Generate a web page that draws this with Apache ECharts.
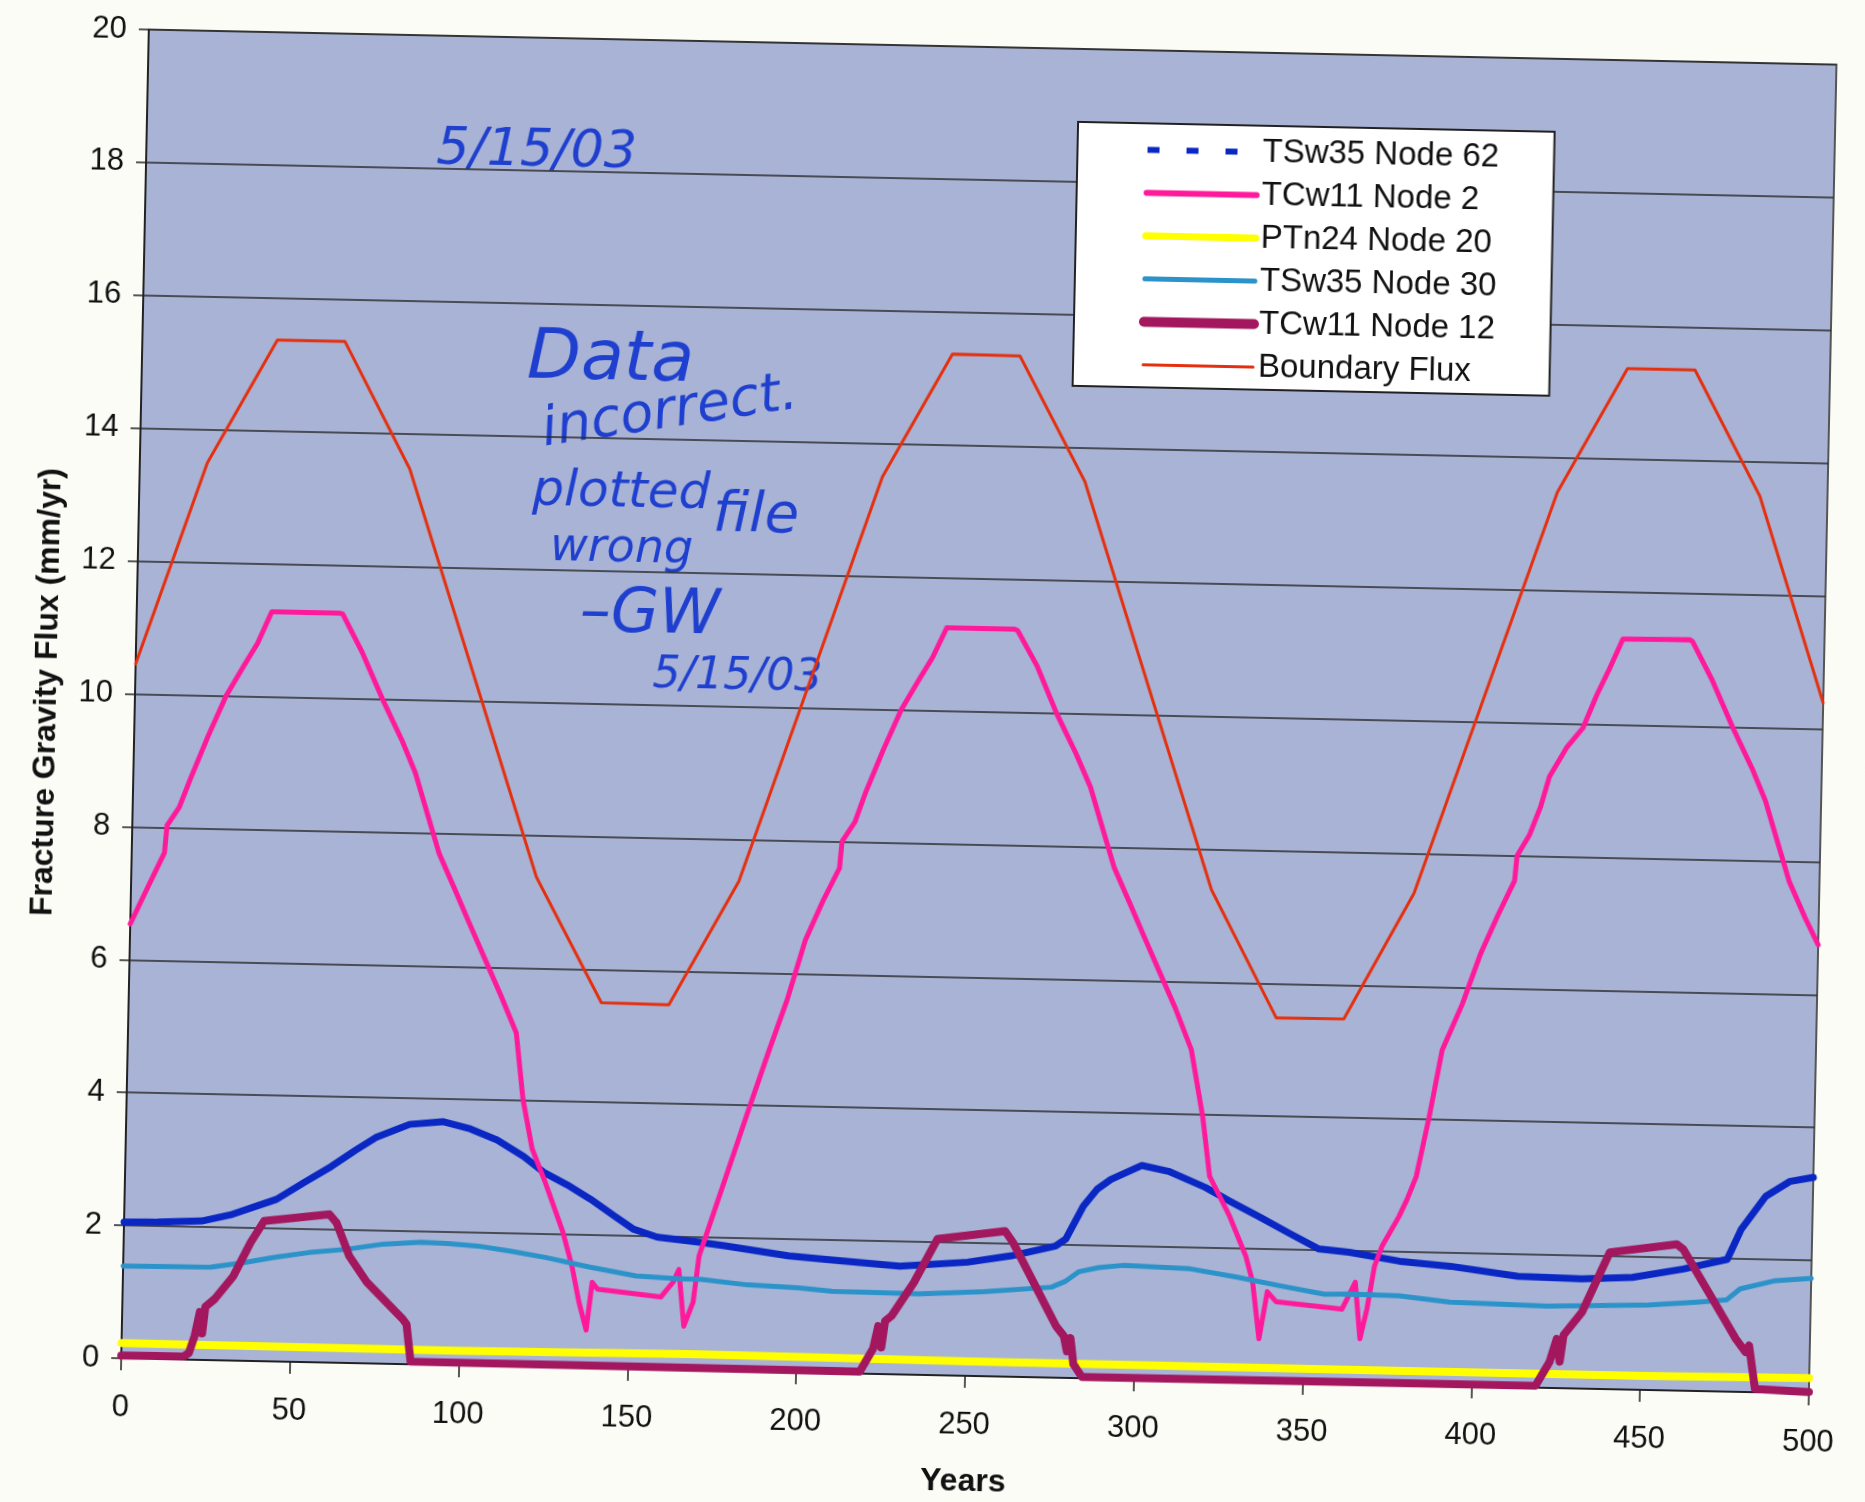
<!DOCTYPE html>
<html>
<head>
<meta charset="utf-8">
<script src="https://cdn.jsdelivr.net/npm/echarts/dist/echarts.min.js"></script>
<style>
  html, body { margin: 0; padding: 0; background: #fbfcf6; overflow: hidden; }
  /* the scanned sheet sits a little crooked */
  #chart { width: 1865px; height: 1502px; transform: rotate(1.19deg); transform-origin: 50% 50%; }
</style>
</head>
<body>
<div id="chart"></div>
<script>
// x axis: years, y axis: fracture gravity flux (mm/yr)
var yearTicks = [0, 50, 100, 150, 200, 250, 300, 350, 400, 450, 500];
var fluxTicks = [0, 2, 4, 6, 8, 10, 12, 14, 16, 18, 20];

var node62Years = [0, 10, 23, 32, 45, 53, 61, 68, 74, 84, 94, 102, 110, 118, 124, 131, 138, 145, 151, 158, 170, 178, 197, 210, 230, 250, 263, 276, 279, 284, 288, 292, 301, 309, 320, 327, 336, 345, 354, 363, 378, 393, 413, 432, 447, 462, 475, 479, 486, 493, 500];
var node62Flux  = [2.05, 2.06, 2.09, 2.2, 2.44, 2.7, 2.95, 3.2, 3.4, 3.61, 3.66, 3.56, 3.4, 3.16, 2.93, 2.75, 2.54, 2.3, 2.1, 1.99, 1.93, 1.88, 1.75, 1.7, 1.63, 1.71, 1.82, 1.98, 2.09, 2.59, 2.85, 3.0, 3.22, 3.14, 2.91, 2.72, 2.49, 2.25, 2.02, 1.98, 1.86, 1.8, 1.67, 1.65, 1.69, 1.83, 1.99, 2.45, 2.95, 3.18, 3.25];

var node2Years = [0, 5, 9.7, 10.3, 13.8, 17, 22, 27, 32, 36, 40, 60, 61, 67, 73.4, 79.3, 83.5, 86, 91, 96, 100, 105, 110, 115, 117.4, 120.4, 124.5, 130, 132.9, 135.2, 137.5, 139, 140.6, 159.4, 163, 164.6, 166.4, 169, 170.5, 177.4, 183.6, 190, 195, 200, 205, 209.7, 210.3, 214, 217, 222, 227, 232, 236, 240, 260, 261, 267, 273, 279, 283.5, 286, 291, 296, 300, 305, 310, 315, 318.8, 321.2, 327.4, 332.4, 334.6, 336.8, 339, 341.7, 361.2, 365, 366.7, 368.6, 370.6, 372.7, 377.5, 379.8, 382.4, 385.9, 389.3, 395, 400, 405, 409.7, 410.3, 413.8, 417, 419.4, 424.3, 429, 432.9, 436.6, 440.3, 460.2, 461, 467, 473.4, 479.3, 483.5, 486, 491, 496, 500];
var node2Flux  = [6.54, 7.1, 7.62, 8.03, 8.31, 8.75, 9.4, 10.0, 10.45, 10.8, 11.28, 11.28, 11.27, 10.7, 9.99, 9.39, 8.9, 8.5, 7.7, 7.15, 6.7, 6.15, 5.6, 5.02, 4.02, 3.28, 2.78, 2.04, 1.53, 0.99, 0.57, 1.29, 1.19, 1.09, 1.32, 1.51, 0.66, 1.02, 1.72, 2.83, 3.83, 4.84, 5.6, 6.5, 7.1, 7.6, 8.0, 8.3, 8.75, 9.4, 10.0, 10.45, 10.8, 11.25, 11.25, 11.23, 10.7, 10.0, 9.4, 8.9, 8.5, 7.7, 7.15, 6.7, 6.15, 5.6, 4.98, 3.97, 3.08, 2.48, 1.89, 1.5, 0.65, 1.36, 1.21, 1.12, 1.53, 0.68, 1.13, 1.78, 2.08, 2.53, 2.79, 3.14, 4.05, 5.05, 5.75, 6.5, 7.1, 7.62, 8.0, 8.31, 8.75, 9.2, 9.64, 9.94, 10.44, 10.85, 11.29, 11.3, 11.27, 10.7, 9.99, 9.39, 8.9, 8.5, 7.7, 7.15, 6.75];

var node20Years = [0, 100, 170, 250, 370, 450, 500];
var node20Flux  = [0.23, 0.22, 0.24, 0.22, 0.21, 0.21, 0.23];

var node30Years = [0, 26, 35, 45, 55, 66, 77, 88, 96, 105, 115, 125, 138, 152, 165, 171, 185, 200, 210, 236, 255, 275, 279, 283, 289, 296, 316, 330, 343, 356, 363, 378, 393, 422, 452, 467, 475, 479, 489, 500];
var node30Flux  = [1.39, 1.4, 1.47, 1.57, 1.65, 1.71, 1.8, 1.84, 1.83, 1.8, 1.73, 1.65, 1.52, 1.4, 1.37, 1.37, 1.3, 1.27, 1.23, 1.22, 1.27, 1.36, 1.45, 1.6, 1.67, 1.71, 1.68, 1.57, 1.45, 1.34, 1.35, 1.34, 1.26, 1.23, 1.28, 1.34, 1.38, 1.55, 1.68, 1.73];

var node12Years = [0, 18.5, 20, 21.6, 23, 23.8, 24.6, 27.3, 32.7, 37.7, 41.5, 60.8, 62.9, 66.9, 72.3, 83.1, 84.3, 85.7, 218.8, 222.6, 224, 225, 226, 227.9, 234.3, 241, 261, 263.4, 276.6, 279, 280, 281, 282, 284.6, 419, 423, 425, 426, 427, 432.3, 440.2, 460, 461.9, 475, 478, 481, 482, 484, 500];
var node12Flux  = [0.04, 0.05, 0.1, 0.36, 0.72, 0.4, 0.8, 0.92, 1.27, 1.79, 2.11, 2.23, 2.11, 1.61, 1.22, 0.68, 0.6, 0.04, 0.03, 0.38, 0.72, 0.4, 0.8, 0.88, 1.39, 2.05, 2.19, 2.02, 0.78, 0.63, 0.4, 0.6, 0.21, 0.02, 0.03, 0.39, 0.74, 0.4, 0.8, 1.15, 2.06, 2.2, 2.13, 1.05, 0.8, 0.6, 0.7, 0.05, 0.02];

var boundaryYears = [0, 20, 40, 60, 80, 100, 120, 140, 160, 180, 200, 220, 240, 260, 280, 300, 320, 340, 360, 380, 400, 420, 440, 460, 480, 500];
var boundaryFlux  = [10.45, 13.5, 15.37, 15.37, 13.47, 10.42, 7.37, 5.5, 5.49, 7.37, 10.43, 13.5, 15.37, 15.36, 13.49, 10.44, 7.39, 5.48, 5.49, 7.4, 10.44, 13.48, 15.36, 15.36, 13.48, 10.39];

var font = "'Liberation Sans', Arial, Helvetica, sans-serif";
var hand = "'DejaVu Sans', sans-serif";
var ink = '#1f3fcf';

function pairs(xs, ys) {
  return xs.map(function (x, i) { return [x, ys[i]]; });
}
function lineSeries(name, xs, ys, color, width) {
  return {
    name: name,
    type: 'line',
    data: pairs(xs, ys),
    symbol: 'none',
    showSymbol: false,
    lineStyle: { color: color, width: width, cap: 'round', join: 'round' },
    itemStyle: { color: color },
    emphasis: { disabled: true },
    animation: false
  };
}

var chart = echarts.init(document.getElementById('chart'), null, { renderer: 'canvas' });

var option = {
  backgroundColor: '#fbfcf6',
  animation: false,
  grid: {
    left: 134, top: 46, width: 1688, height: 1331,
    show: true, backgroundColor: '#a8b3d5', borderColor: '#555', borderWidth: 2
  },
  legend: {
    orient: 'vertical',
    left: 1065, top: 119,
    padding: [9, 55, 5, 65],
    itemGap: 8,
    itemWidth: 110, itemHeight: 14,
    backgroundColor: '#ffffff',
    borderColor: '#222', borderWidth: 2,
    itemStyle: { opacity: 0 },
    lineStyle: { width: 'inherit', cap: 'round' },
    textStyle: { fontFamily: font, fontSize: 33, color: '#111', lineHeight: 35 },
    data: [
      { name: 'TSw35 Node 62', lineStyle: { type: [12, 27], width: 6, cap: 'butt' } },
      { name: 'TCw11 Node 2', lineStyle: { width: 6 } },
      { name: 'PTn24 Node 20', lineStyle: { width: 7 } },
      { name: 'TSw35 Node 30', lineStyle: { width: 5 } },
      { name: 'TCw11 Node 12', lineStyle: { width: 10 } },
      { name: 'Boundary Flux', lineStyle: { width: 3 } }
    ]
  },
  xAxis: {
    type: 'value',
    min: yearTicks[0], max: yearTicks[yearTicks.length - 1], interval: 50,
    name: 'Years', nameLocation: 'middle', nameGap: 90,
    nameTextStyle: { fontFamily: font, fontSize: 32, fontWeight: 'bold', color: '#111' },
    axisLine: { show: true, onZero: false, lineStyle: { color: '#222', width: 2 } },
    axisTick: { show: true, length: 12, lineStyle: { color: '#222', width: 1.5 } },
    axisLabel: { fontFamily: font, fontSize: 31, color: '#111', margin: 34 },
    splitLine: { show: false }
  },
  yAxis: {
    type: 'value',
    min: fluxTicks[0], max: fluxTicks[fluxTicks.length - 1], interval: 2,
    name: 'Fracture Gravity Flux (mm/yr)', nameLocation: 'middle', nameGap: 72,
    nameTextStyle: { fontFamily: font, fontSize: 32, fontWeight: 'bold', color: '#111' },
    axisLine: { show: true, lineStyle: { color: '#222', width: 2 } },
    axisTick: { show: true, length: 10, lineStyle: { color: '#222', width: 1.5 } },
    axisLabel: { fontFamily: font, fontSize: 31, color: '#111', margin: 22 },
    splitLine: { show: true, lineStyle: { color: '#2a2a2a', width: 1.5 } }
  },
  series: [
    lineSeries('TSw35 Node 62', node62Years, node62Flux, '#0a27c4', 7),
    lineSeries('TCw11 Node 2', node2Years, node2Flux, '#ff1a9c', 5),
    lineSeries('PTn24 Node 20', node20Years, node20Flux, '#ffff00', 8),
    lineSeries('TSw35 Node 30', node30Years, node30Flux, '#2b93c9', 5),
    lineSeries('TCw11 Node 12', node12Years, node12Flux, '#a3175e', 8),
    lineSeries('Boundary Flux', boundaryYears, boundaryFlux, '#e5300f', 3)
  ],
  // handwritten remarks on the printout
  graphic: [
    { type: 'text', x: 424, y: 160, style: { text: '5/15/03', font: 'italic 52px ' + hand, fill: ink, verticalAlign: 'middle' } },
    { type: 'text', x: 519, y: 368, style: { text: 'Data', font: 'italic 70px ' + hand, fill: ink, verticalAlign: 'middle' } },
    { type: 'text', x: 536, y: 440, rotation: 0.17, style: { text: 'incorrect.', font: 'italic 54px ' + hand, fill: ink, verticalAlign: 'middle' } },
    { type: 'text', x: 527, y: 500, style: { text: 'plotted', font: 'italic 50px ' + hand, fill: ink, verticalAlign: 'middle' } },
    { type: 'text', x: 546, y: 556, style: { text: 'wrong', font: 'italic 46px ' + hand, fill: ink, verticalAlign: 'middle' } },
    { type: 'text', x: 708, y: 520, style: { text: 'file', font: 'italic 56px ' + hand, fill: ink, verticalAlign: 'middle' } },
    { type: 'text', x: 577, y: 622, style: { text: '\u2013GW', font: 'italic 62px ' + hand, fill: ink, verticalAlign: 'middle' } },
    { type: 'text', x: 651, y: 682, style: { text: '5/15/03', font: 'italic 44px ' + hand, fill: ink, verticalAlign: 'middle' } }
  ]
};

chart.setOption(option);
</script>
</body>
</html>
